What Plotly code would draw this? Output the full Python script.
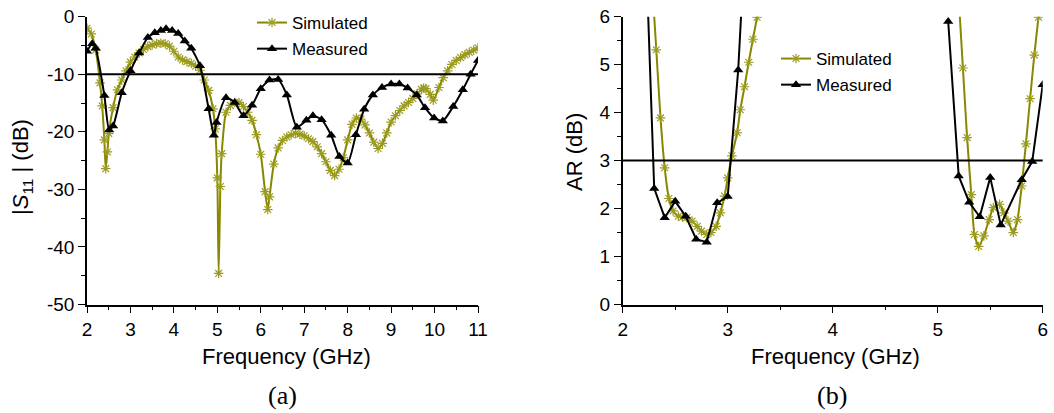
import plotly.graph_objects as go

# ---------------- data: |S11| (panel a) ----------------
s11_sim_f = [2.0, 2.1, 2.2, 2.3, 2.35, 2.4, 2.43, 2.47, 2.5, 2.6, 2.7, 2.8, 2.9, 3.0, 3.1, 3.2, 3.3,
             3.4, 3.5, 3.6, 3.7, 3.8, 3.9, 4.0, 4.1, 4.2, 4.3, 4.4, 4.5, 4.6, 4.7, 4.8, 4.9, 4.95,
             5.0, 5.03, 5.07, 5.1, 5.2, 5.3, 5.4, 5.5, 5.6, 5.7, 5.8, 5.9, 6.0, 6.1, 6.16, 6.2,
             6.3, 6.4, 6.5, 6.6, 6.7, 6.8, 6.9, 7.0, 7.1, 7.2, 7.3, 7.4, 7.5, 7.6, 7.7, 7.8, 7.9,
             8.0, 8.1, 8.2, 8.3, 8.4, 8.5, 8.6, 8.7, 8.8, 8.9, 9.0, 9.1, 9.2, 9.3, 9.4, 9.5, 9.6,
             9.7, 9.75, 9.8, 9.9, 9.97, 10.1, 10.2, 10.3, 10.4, 10.5, 10.6, 10.7, 10.8, 10.9, 11.0]
s11_sim_db = [-2.0, -3.0, -5.8, -11.5, -15.5, -21.4, -26.4, -23.5, -20.3, -15.8, -12.7, -11.0, -9.4,
              -7.9, -7.0, -6.3, -5.7, -5.2, -4.9, -4.7, -4.6, -4.7, -5.1, -6.0, -7.0, -7.5, -7.8,
              -8.1, -8.6, -9.3, -11.0, -12.8, -16.0, -19.5, -28.0, -44.6, -29.5, -23.8, -16.6,
              -15.4, -14.9, -14.9, -15.6, -16.6, -18.0, -20.5, -23.9, -30.4, -33.5, -31.3, -25.6,
              -22.8, -21.5, -20.9, -20.5, -20.3, -20.4, -20.7, -21.2, -21.7, -22.6, -23.8, -25.2,
              -26.7, -27.6, -26.5, -24.5, -21.4, -18.7, -17.6, -17.8, -18.8, -20.2, -21.8, -22.9,
              -22.0, -20.2, -18.3, -17.2, -16.3, -15.5, -14.9, -14.2, -13.4, -12.6, -12.4, -12.5,
              -13.5, -14.5, -12.3, -10.6, -9.4, -8.3, -7.6, -7.1, -6.6, -6.2, -5.8, -5.4]

s11_meas_f = [2.0, 2.12, 2.2, 2.4, 2.51, 2.6, 2.8, 3.0, 3.2, 3.4, 3.56, 3.7, 3.82, 3.96, 4.1, 4.25,
              4.4, 4.6, 4.8, 4.92, 4.98, 5.2, 5.4, 5.6, 5.8, 6.0, 6.2, 6.4, 6.6, 6.83, 7.05, 7.2,
              7.4, 7.62, 7.81, 8.0, 8.19, 8.38, 8.58, 8.79, 9.0, 9.19, 9.38, 9.59, 9.78, 9.99,
              10.19, 10.43, 10.65, 10.83, 11.0]
s11_meas_db = [-6.0, -4.7, -5.5, -13.7, -19.7, -19.0, -13.2, -9.4, -6.3, -3.6, -2.8, -2.4, -2.1,
               -2.4, -2.9, -4.2, -5.5, -8.5, -16.0, -20.6, -18.4, -14.1, -14.9, -17.2, -15.4,
               -12.5, -11.0, -10.9, -13.6, -19.2, -18.0, -17.2, -17.9, -20.6, -24.3, -25.4,
               -20.5, -16.1, -13.6, -12.3, -11.7, -11.7, -12.4, -13.6, -15.8, -17.6, -18.1,
               -15.6, -12.7, -10.0, -7.6]

s11_ref = -10
s11_xticks = [2, 3, 4, 5, 6, 7, 8, 9, 10, 11]
s11_yticks = [-50, -40, -30, -20, -10, 0]
s11_yticklabels = ["-50", "-40", "-30", "-20", "-10", "0"]

# ---------------- data: AR (panel b) ----------------
ar_sim_f = [2.28, 2.32, 2.36, 2.40, 2.44, 2.48, 2.53, 2.57, 2.61, 2.66, 2.71, 2.75, 2.80, 2.84, 2.89,
            2.93, 2.97, 3.00, 3.04, 3.09, 3.12, 3.16, 3.20, 3.24, 3.28, 3.32,
            4.0,
            5.20, 5.24, 5.28, 5.32, 5.35, 5.39, 5.44, 5.49, 5.53, 5.59, 5.63, 5.67, 5.72, 5.76,
            5.80, 5.84, 5.88, 5.92, 5.96, 6.0]
ar_sim_db = [6.7, 5.31, 3.89, 2.85, 2.21, 1.95, 1.84, 1.82, 1.81, 1.74, 1.63, 1.53, 1.46, 1.50, 1.63,
             1.91, 2.26, 2.64, 3.10, 3.58, 4.06, 4.54, 5.05, 5.53, 5.99, 6.45,
             None,
             6.4, 4.93, 3.48, 2.29, 1.46, 1.21, 1.43, 1.77, 2.02, 2.09, 1.91, 1.74, 1.50, 1.77,
             2.47, 3.35, 4.29, 5.20, 5.99, 6.8]

ar_meas_f = [2.2, 2.3, 2.4, 2.5, 2.6, 2.7, 2.8, 2.9, 3.0, 3.1, 3.2,
             4.0,
             5.1, 5.2, 5.3, 5.4, 5.5, 5.6, 5.8, 5.9, 6.0]
ar_meas_db = [8.7, 2.42, 1.81, 2.15, 1.84, 1.36, 1.30, 2.12, 2.25, 4.89, 9.0,
              None,
              5.90, 2.68, 2.13, 1.83, 2.65, 1.66, 2.60, 2.98, 4.58]

ar_ref = 3
ar_xticks = [2, 3, 4, 5, 6]
ar_yticks = [0, 1, 2, 3, 4, 5, 6]

# ---------------- styling ----------------
OLIVE = "#878700"
OLIVE_MK = "#9b9b1e"
FONT = "Liberation Sans, Arial, Helvetica, sans-serif"
W, H = 1054, 413

fig = go.Figure()

sim_marker = dict(symbol="asterisk-open", size=8, color=OLIVE_MK, line=dict(width=1.2, color=OLIVE_MK))
meas_marker = dict(symbol="triangle-up", size=9, color="black")

fig.add_trace(go.Scatter(x=s11_sim_f, y=s11_sim_db, mode="lines+markers", name="Simulated",
                         line=dict(color=OLIVE, width=2, shape="spline", smoothing=0.6),
                         marker=sim_marker, xaxis="x", yaxis="y", legend="legend",
                         legendgroup="a1"))
fig.add_trace(go.Scatter(x=s11_meas_f, y=s11_meas_db, mode="lines+markers", name="Measured",
                         line=dict(color="black", width=2, shape="spline", smoothing=0.6),
                         marker=meas_marker, xaxis="x", yaxis="y", legend="legend",
                         legendgroup="a2"))
fig.add_trace(go.Scatter(x=ar_sim_f, y=ar_sim_db, mode="lines+markers", name="Simulated",
                         line=dict(color=OLIVE, width=2, shape="spline", smoothing=0.6),
                         marker=sim_marker, xaxis="x2", yaxis="y2", legend="legend2",
                         legendgroup="b1"))
fig.add_trace(go.Scatter(x=ar_meas_f, y=ar_meas_db, mode="lines+markers", name="Measured",
                         line=dict(color="black", width=2),
                         marker=meas_marker, xaxis="x2", yaxis="y2", legend="legend2",
                         legendgroup="b2"))

axis_common = dict(showgrid=False, zeroline=False, showline=True, linecolor="black", linewidth=1.5,
                   ticks="outside", ticklen=7, tickwidth=1.3, tickcolor="black", automargin=False,
                   tickfont=dict(family=FONT, size=19, color="black"), mirror=False)

ydom = [1 - 304.5 / H, 1 - 16.7 / H]
fig.update_layout(
    width=W, height=H, margin=dict(l=0, r=0, t=0, b=0, autoexpand=False),
    paper_bgcolor="white", plot_bgcolor="white",
    xaxis=dict(domain=[87 / W, 478 / W], range=[2, 11], tickvals=s11_xticks,
               minor=dict(ticks="outside", ticklen=4, dtick=0.5, tickcolor="black", tickwidth=1.2),
               anchor="y", **axis_common),
    yaxis=dict(domain=ydom, range=[-50, 0], tickvals=s11_yticks, ticktext=s11_yticklabels,
               minor=dict(ticks="outside", ticklen=4, dtick=5, tickcolor="black", tickwidth=1.2),
               anchor="x", **axis_common),
    xaxis2=dict(domain=[622.7 / W, 1042.7 / W], range=[2, 6], tickvals=ar_xticks,
                minor=dict(ticks="outside", ticklen=4, dtick=0.5, tickcolor="black", tickwidth=1.2),
                anchor="y2", **axis_common),
    yaxis2=dict(domain=ydom, range=[0, 6], tickvals=ar_yticks,
                minor=dict(ticks="outside", ticklen=4, dtick=0.5, tickcolor="black", tickwidth=1.2),
                anchor="x2", **axis_common),
    legend=dict(x=252 / W, y=1 - 5 / H, xanchor="left", yanchor="top", bgcolor="rgba(0,0,0,0)",
                font=dict(family=FONT, size=17, color="black"), tracegroupgap=1,
                traceorder="grouped"),
    legend2=dict(x=776 / W, y=1 - 41 / H, xanchor="left", yanchor="top", bgcolor="rgba(0,0,0,0)",
                 font=dict(family=FONT, size=17, color="black"), tracegroupgap=1,
                 traceorder="grouped"),
    showlegend=True,
)

# reference lines
fig.add_shape(type="line", xref="x domain", yref="y", x0=0, x1=1, y0=s11_ref, y1=s11_ref,
              line=dict(color="black", width=2))
fig.add_shape(type="line", xref="x2 domain", yref="y2", x0=0, x1=1, y0=ar_ref, y1=ar_ref,
              line=dict(color="black", width=2))

title_font = dict(family=FONT, size=22, color="black")
ann = [
    dict(text="Frequency (GHz)", x=286 / W, y=1 - 356 / H, font=title_font),
    dict(text="Frequency (GHz)", x=835 / W, y=1 - 356 / H, font=title_font),
    dict(text="|<i>S</i><sub>11</sub> | (dB)", x=22 / W, y=1 - 167 / H, font=title_font, textangle=-90),
    dict(text="AR (dB)", x=574 / W, y=1 - 152 / H, font=title_font, textangle=-90),
    dict(text="(a)", x=282 / W, y=1 - 395 / H,
         font=dict(family="Liberation Serif, Times New Roman, serif", size=26, color="black")),
    dict(text="(b)", x=832 / W, y=1 - 395 / H,
         font=dict(family="Liberation Serif, Times New Roman, serif", size=26, color="black")),
]
for a in ann:
    fig.add_annotation(xref="paper", yref="paper", showarrow=False, xanchor="center",
                       yanchor="middle", **a)

fig.write_html("out.html")
